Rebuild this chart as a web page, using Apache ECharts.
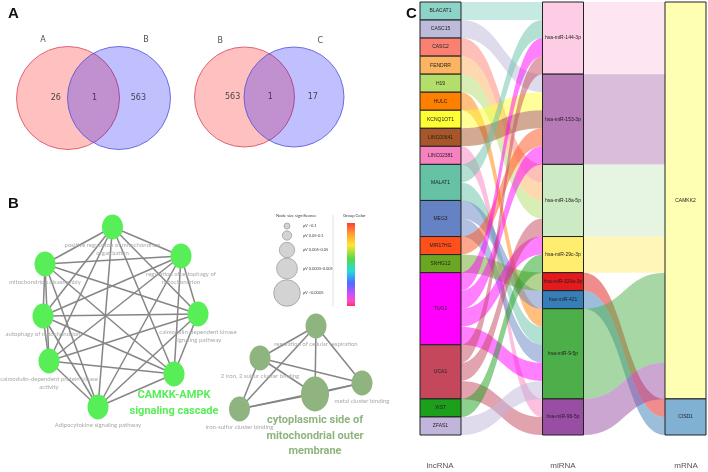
<!DOCTYPE html>
<html><head><meta charset="utf-8">
<script src="https://cdn.jsdelivr.net/npm/echarts@6/dist/echarts.min.js"></script>
<style>html,body{margin:0;padding:0;background:#fff}#c{width:708px;height:472px}</style>
</head><body><div id="c"></div>
<script>
// ---------------- DATA ----------------
// Panel A: Venn diagrams (only-left, shared, only-right)
const vennLeftSets = ['A', 'B'];
const vennLeftCounts = [26, 1, 563];
const vennRightSets = ['B', 'C'];
const vennRightCounts = [563, 1, 17];

// Panel B: enrichment network (ClueGO-like)
const greenTerms = [
  'positive regulation of mitochondrion\norganization',
  'regulation of autophagy of\nmitochondrion',
  'calmodulin-dependent kinase\nsignaling pathway',
  'CAMKK-AMPK\nsignaling cascade',
  'Adipocytokine signaling pathway',
  'calmodulin-dependent protein kinase\nactivity',
  'autophagy of mitochondrion',
  'mitochondrion disassembly'
];
const greenLeading = 3;
const greenEdges = [[0,1],[0,2],[0,3],[0,4],[0,5],[0,6],[0,7],[1,2],[1,3],[1,4],[1,5],[1,6],[1,7],
  [2,3],[2,4],[2,5],[2,6],[2,7],[3,4],[3,5],[3,6],[3,7],[4,5],[4,6],[4,7],[5,6],[5,7],[6,7]];
const oliveTerms = [
  'regulation of cellular respiration',
  '2 iron, 2 sulfur cluster binding',
  'metal cluster binding',
  'cytoplasmic side of\nmitochondrial outer\nmembrane',
  'iron-sulfur cluster binding'
];
const oliveLeading = 3;
const oliveEdges = [[0,1],[0,2],[0,3],[0,4],[1,2],[1,3],[1,4],[2,3],[2,4],[3,4]];
const legendSizeLabels = ['pV >0.1', 'pV 0.05-0.1', 'pV 0.005-0.05', 'pV 0.0005-0.005', 'pV <0.0005'];

// Panel C: Sankey lncRNA -> miRNA -> mRNA
const lncRNAs = ['BLACAT1','CASC15','CASC2','FENDRR','H19','HULC','KCNQ1OT1','LINC00641','LINC02381',
  'MALAT1','MEG3','MIR17HG','SNHG12','TUG1','UCA1','XIST','ZFAS1'];
const miRNAs = ['hsa-miR-144-3p','hsa-miR-153-3p','hsa-miR-18a-5p','hsa-miR-29c-3p','hsa-miR-320a-3p',
  'hsa-miR-421','hsa-miR-9-5p','hsa-miR-96-5p'];
const mRNAs = ['CAMKK2','CISD1'];
const linkSource = ['BLACAT1','CASC15','CASC2','FENDRR','H19','HULC','KCNQ1OT1','LINC00641','LINC02381',
  'MALAT1','MALAT1','MEG3','MEG3','MIR17HG','SNHG12','TUG1','TUG1','TUG1','TUG1','UCA1','UCA1','UCA1','XIST','ZFAS1',
  'hsa-miR-144-3p','hsa-miR-153-3p','hsa-miR-18a-5p','hsa-miR-29c-3p','hsa-miR-320a-3p','hsa-miR-421','hsa-miR-9-5p','hsa-miR-96-5p'];
const linkTarget = ['hsa-miR-144-3p','hsa-miR-153-3p','hsa-miR-18a-5p','hsa-miR-18a-5p','hsa-miR-18a-5p','hsa-miR-9-5p',
  'hsa-miR-153-3p','hsa-miR-153-3p','hsa-miR-96-5p',
  'hsa-miR-144-3p','hsa-miR-9-5p','hsa-miR-421','hsa-miR-9-5p','hsa-miR-153-3p','hsa-miR-320a-3p',
  'hsa-miR-144-3p','hsa-miR-153-3p','hsa-miR-29c-3p','hsa-miR-9-5p','hsa-miR-144-3p','hsa-miR-18a-5p','hsa-miR-96-5p',
  'hsa-miR-29c-3p','hsa-miR-9-5p',
  'CAMKK2','CAMKK2','CAMKK2','CAMKK2','CISD1','CISD1','CAMKK2','CAMKK2'];
const linkValue = [1,1,1,1,1,1,1,1,1, 1,1,1,1,1,1, 1,1,1,1,1,1,1, 1,1, 4,5,4,2,1,1,5,2];

// ---------------- LAYOUT / STYLE ----------------
// Cytoscape layout coordinates of the network nodes (layout units)
const greenLayout = [[112.5,27],[181,56],[198,114],[174,174],[98,207],[49,161],[43,116],[45,64]];
const oliveLayout = [[316,126],[260,158],[362,183],[315,194],[239.5,209]];
const vennCountPos = [-0.24, 0.52, 1.38];
const vennSetPos = [[-0.49, 1.14], [1.53, 1.14]];

const nodeColors = {
  'BLACAT1':'#8dd3c7','CASC15':'#bebada','CASC2':'#fb8072','FENDRR':'#fdb462','H19':'#b3de69','HULC':'#ff7f00',
  'KCNQ1OT1':'#ffff33','LINC00641':'#a65628','LINC02381':'#f781bf','MALAT1':'#66c2a5','MEG3':'#6583c4',
  'MIR17HG':'#ff4f1a','SNHG12':'#6aa621','TUG1':'#ff00ff','UCA1':'#c4475c','XIST':'#1ca01c','ZFAS1':'#c2b5dc',
  'hsa-miR-144-3p':'#fdcce5','hsa-miR-153-3p':'#b67bb6','hsa-miR-18a-5p':'#ccebc5','hsa-miR-29c-3p':'#ffed6f',
  'hsa-miR-320a-3p':'#e41a1c','hsa-miR-421':'#377eb8','hsa-miR-9-5p':'#4daf4a','hsa-miR-96-5p':'#984ea3',
  'CAMKK2':'#ffffb3','CISD1':'#80b1d3'
};
const BIGFONT = "Roboto, 'Liberation Sans', sans-serif";
const ELLIPSE = 'path://M0,10 A10,10 0 1,1 20,10 A10,10 0 1,1 0,10 Z';
const GREEN = '#57ee57', OLIVE = '#8fb47f';

function vennSeries(gi, sets, counts, diam) {
  const circleData = [
    {value:[0,0], itemStyle:{color:'rgba(255,0,0,0.31)', borderColor:'#d9475a', borderWidth:1}},
    {value:[1,0], itemStyle:{color:'rgba(0,0,255,0.31)', borderColor:'#5353d8', borderWidth:1}}
  ];
  return [
    {type:'scatter', xAxisIndex:gi, yAxisIndex:gi, symbolSize:diam, data:circleData, silent:true, clip:false,
     emphasis:{disabled:true}, z:2},
    {type:'scatter', xAxisIndex:gi, yAxisIndex:gi, symbolSize:1, clip:false, silent:true, z:3,
     itemStyle:{color:'transparent'},
     data: counts.map((c,i)=>({value:[vennCountPos[i],0], name:String(c)})),
     label:{show:true, position:'inside', formatter:p=>p.name, color:'#222', fontSize:8, fontFamily:'DejaVu Sans'}},
    {type:'scatter', xAxisIndex:gi, yAxisIndex:gi, symbolSize:1, clip:false, silent:true, z:3,
     itemStyle:{color:'transparent'},
     data: sets.map((s,i)=>({value:vennSetPos[i], name:s})),
     label:{show:true, position:'inside', formatter:p=>p.name, color:'#222', fontSize:8, fontFamily:'DejaVu Sans'}}
  ];
}

function networkSeries(terms, layout, edges, leading, color, bigSize) {
  return {
    type:'graph', coordinateSystem:'cartesian2d', xAxisIndex:2, yAxisIndex:2, silent:true, z:3,
    symbol:ELLIPSE,
    data: terms.map((t,i)=>({
      name:t, value:layout[i],
      symbolSize: i===leading && bigSize ? [28,35] : [21,25],
      itemStyle:{color:color},
      label: i===leading ? {show:true, position:'bottom', distance:1, color:color, fontSize:11, fontWeight:'bold',
                             fontFamily:BIGFONT, lineHeight:15.5, align:'center'}
                         : {show:true, position:'bottom', distance:1, color:'#a8a8a8', fontSize:6, fontFamily:'Lato',
                             lineHeight:8.5, align:'center'}
    })),
    links: edges.map(e=>({source:e[0], target:e[1]})),
    lineStyle:{color:'#868686', width:1.5, opacity:1, curveness:0},
    emphasis:{disabled:true}
  };
}

const sankeyNodes = lncRNAs.concat(miRNAs, mRNAs).map(n=>({name:n, itemStyle:{color:nodeColors[n]}}));
const sankeyLinks = linkSource.map((s,i)=>({source:s, target:linkTarget[i], value:linkValue[i]}));

const legendGraphics = [];
const legendY = [226, 235.5, 250, 268.5, 293];
const legendR = [3, 4.7, 7.7, 10.5, 13.3];
legendGraphics.push({type:'text', x:276, y:214, style:{text:'Node size significance', font:'4.2px Lato', fill:'#444'}});
legendSizeLabels.forEach((t,i)=>{
  legendGraphics.push({type:'circle', shape:{cx:287, cy:legendY[i], r:legendR[i]}, style:{fill:'#d3d3d3', stroke:'#8a8a8a', lineWidth:0.6}, silent:true});
  legendGraphics.push({type:'text', x:303, y:legendY[i], style:{text:t, fill:'#444', verticalAlign:'middle', font:'4px Lato'}});
});
legendGraphics.push({type:'line', shape:{x1:333, y1:215, x2:333, y2:307}, style:{stroke:'#e2e2e2', lineWidth:1}});
legendGraphics.push({type:'text', x:343, y:214, style:{text:'Group Color', fill:'#444', font:'4.2px Lato'}});
legendGraphics.push({type:'rect', shape:{x:347, y:223, width:8, height:83},
  style:{fill:new echarts.graphic.LinearGradient(0,0,0,1,[
    {offset:0,color:'#ff3b3b'},{offset:0.12,color:'#ff9a30'},{offset:0.27,color:'#ffe633'},{offset:0.43,color:'#55d94a'},
    {offset:0.58,color:'#22dddd'},{offset:0.72,color:'#4a6cff'},{offset:0.86,color:'#d24cff'},{offset:0.94,color:'#ff4cc8'},
    {offset:1,color:'#ff3355'}])}});

const option = {
  animation:false,
  backgroundColor:'#fff',
  grid:[
    {left:1.7, top:31.7, width:183.6, height:132.6},
    {left:180.15, top:32.65, width:178.2, height:128.7},
    {left:0, top:200, width:400, height:272}
  ],
  xAxis:[
    {gridIndex:0, type:'value', min:-1.3, max:2.3, show:false},
    {gridIndex:1, type:'value', min:-1.3, max:2.3, show:false},
    {gridIndex:2, type:'value', min:0, max:400, show:false}
  ],
  yAxis:[
    {gridIndex:0, type:'value', min:-1.3, max:1.3, show:false},
    {gridIndex:1, type:'value', min:-1.3, max:1.3, show:false},
    {gridIndex:2, type:'value', min:0, max:272, inverse:true, show:false}
  ],
  series: [].concat(
    vennSeries(0, vennLeftSets, vennLeftCounts, 103),
    vennSeries(1, vennRightSets, vennRightCounts, 100),
    [networkSeries(greenTerms, greenLayout, greenEdges, greenLeading, GREEN, false),
     networkSeries(oliveTerms, oliveLayout, oliveEdges, oliveLeading, OLIVE, true),
     {
      type:'sankey', left:420, right:2, top:2, bottom:37, nodeWidth:41, nodeGap:0, layoutIterations:0,
      nodeAlign:'justify', draggable:false, silent:true,
      data:sankeyNodes, links:sankeyLinks,
      itemStyle:{borderColor:'#222', borderWidth:1},
      lineStyle:{color:'source', opacity:0.5, curveness:0.5},
      label:{show:true, position:'inside', color:'#222', fontSize:5, fontFamily:"'Liberation Sans', Arial, sans-serif"},
      emphasis:{disabled:true}
     }]
  ),
  graphic: [
    {type:'text', x:8, y:6, style:{text:'A', font:'bold 15px "Liberation Sans"', fill:'#111'}},
    {type:'text', x:8, y:196, style:{text:'B', font:'bold 15px "Liberation Sans"', fill:'#111'}},
    {type:'text', x:406, y:6, style:{text:'C', font:'bold 15px "Liberation Sans"', fill:'#111'}},
    {type:'text', x:440, y:466, style:{text:'lncRNA', font:'8px "Liberation Sans"', fill:'#555', align:'center', verticalAlign:'middle'}},
    {type:'text', x:563, y:466, style:{text:'miRNA', font:'8px "Liberation Sans"', fill:'#555', align:'center', verticalAlign:'middle'}},
    {type:'text', x:686, y:466, style:{text:'mRNA', font:'8px "Liberation Sans"', fill:'#555', align:'center', verticalAlign:'middle'}}
  ].concat(legendGraphics)
};
const chart = echarts.init(document.getElementById('c'));
chart.setOption(option);
</script></body></html>
